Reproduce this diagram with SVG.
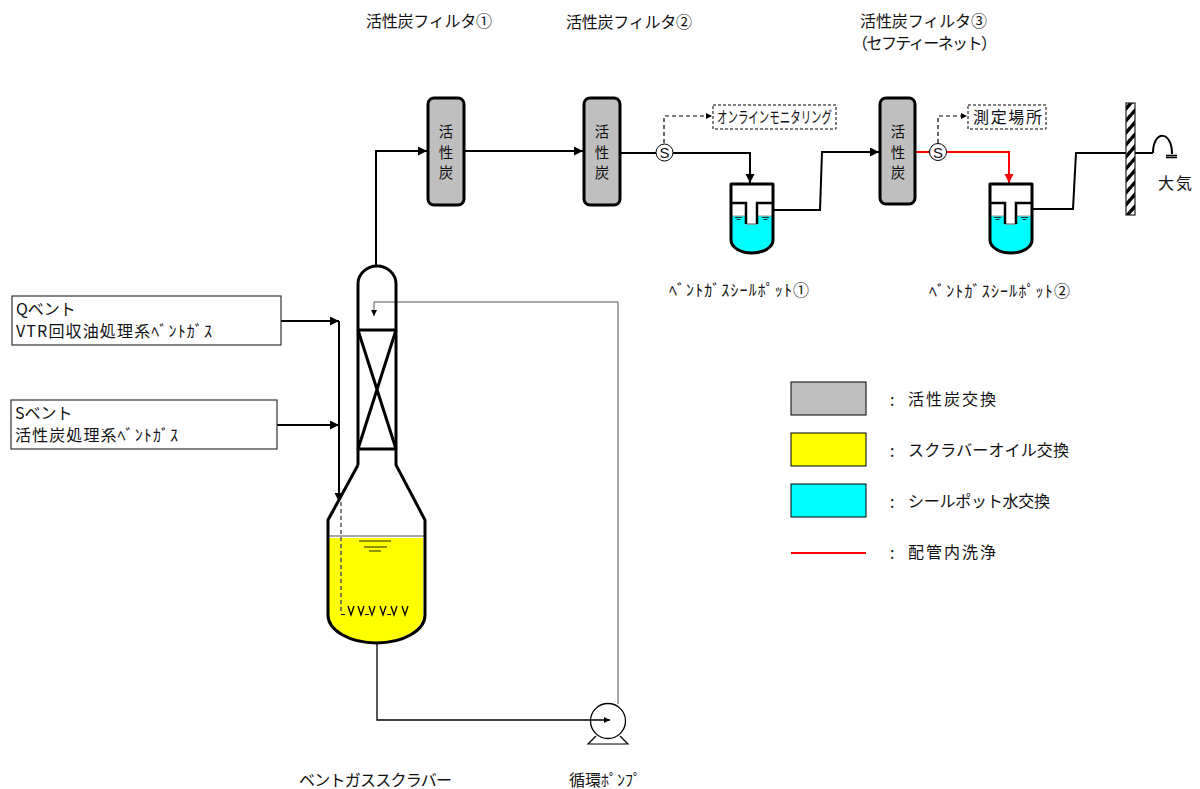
<svg xmlns="http://www.w3.org/2000/svg" width="1200" height="789" viewBox="0 0 1200 789">
<style>
text{font-family:"Noto Sans CJK JP","Liberation Sans",sans-serif;font-size:16px;fill:#111}
.p{fill:none;stroke:#000;stroke-width:2}
.t{fill:none;stroke:#000;stroke-width:3}
.thin{fill:none;stroke:#555;stroke-width:1}
.d{fill:none;stroke:#000;stroke-width:1.2;stroke-dasharray:4 3}
.f{fill:#bfbfbf;stroke:#000;stroke-width:3}
.b{fill:#fff;stroke:#333;stroke-width:1.2}
.s{fill:#fff;stroke:#000;stroke-width:1}
.k{font-size:14.5px;text-anchor:middle}
.sl{font-family:"Liberation Sans",sans-serif;font-size:15px;text-anchor:middle}
</style>
<defs>
<marker id="a" markerUnits="userSpaceOnUse" markerWidth="10" markerHeight="10" refX="9" refY="4.5" orient="auto"><path d="M0 0L9 4.5L0 9z" fill="#000"/></marker>
<marker id="r" markerUnits="userSpaceOnUse" markerWidth="10" markerHeight="10" refX="9" refY="4.5" orient="auto"><path d="M0 0L9 4.5L0 9z" fill="#f00"/></marker>
<marker id="m" markerUnits="userSpaceOnUse" markerWidth="7" markerHeight="7" refX="6" refY="3" orient="auto"><path d="M0 0L6 3L0 6z" fill="#000"/></marker>
<pattern id="h" patternUnits="userSpaceOnUse" width="9" height="12" patternTransform="translate(1126 103)"><rect width="9" height="12" fill="#fff"/><path d="M-1 7L9 -5M-1 19L11 5" stroke="#000" stroke-width="3.4" fill="none"/></pattern>
<g id="potshape">
<path d="M0 32H42V56A21 13 0 0 1 0 56z" fill="#0ff"/>
<rect x="15" y="19" width="11" height="21" fill="#fff"/>
<path d="M15 40H26" stroke="#888" stroke-width="1.5"/>
<path d="M1 32H15M26 32H41" stroke="#999" stroke-width="1.2"/>
<path d="M0 19H15V40M26 40V19H42" fill="none" stroke="#000" stroke-width="2.5"/>
<path d="M0 0H42V56A21 13 0 0 1 0 56z" fill="none" stroke="#000" stroke-width="3" stroke-linejoin="round"/>
<path d="M4 33.500H11M5.500 35.500H9.500" stroke="#000" stroke-width=".8" fill="none"/>
<path d="M31 33.500H38M32.500 35.500H36.500" stroke="#000" stroke-width=".8" fill="none"/>
</g>
<path id="v" d="M-3 0L0 9L3 0" fill="none" stroke="#000" stroke-width="1.3"/>
</defs>

<g id="connectors">
<path class="p" d="M376 266V151H427" marker-end="url(#a)"/>
<path class="p" d="M464 151H583" marker-end="url(#a)"/>
<path class="p" d="M620 153H750V183" marker-end="url(#a)"/>
<path class="p" d="M773 210H820L822 152H879" marker-end="url(#a)"/>
<path d="M916 152H1009V183" fill="none" stroke="#f00" stroke-width="2" marker-end="url(#r)"/>
<path class="p" d="M1031 209H1073L1076 153H1153"/>
<path class="d" d="M664 143V116H712" marker-end="url(#m)"/>
<path class="d" d="M938 143V116H967" marker-end="url(#m)"/>
<path class="p" d="M281 321H339" marker-end="url(#a)"/>
<path class="p" d="M277 425H339" marker-end="url(#a)"/>
<path class="p" d="M339 321V502" marker-end="url(#a)"/>
<path class="thin" d="M618 704V302H374V316" marker-end="url(#m)"/>
<path d="M377 644V720H610" fill="none" stroke="#000" stroke-width="1.300" marker-end="url(#m)"/>
</g>

<g id="scrubber">
<path d="M329 538H423V615A47 27 0 0 1 329 615z" fill="#ff0"/>
<path d="M328 536H425" stroke="#888" stroke-width="1.5"/>
<path class="t" d="M358 465V284A19 18 0 0 1 396 284V465L425 520V615A48.500 28 0 0 1 328 615V520L358 465"/>
<path class="t" d="M358 330H396M358 449H396M358 330L396 449M396 330L358 449"/>
<path d="M359 541H391M364 547H387M369 551H381" stroke="#222" stroke-width="1"/>
<path d="M341 502V612" fill="none" stroke="#555" stroke-width="1.5" stroke-dasharray="4 3"/>
<path d="M341 614.500H345M365 614.500H369M387 614.500H391" fill="none" stroke="#000" stroke-width="1.2"/>
<use href="#v" x="351" y="606"/><use href="#v" x="361" y="606"/><use href="#v" x="372" y="606"/><use href="#v" x="383" y="606"/><use href="#v" x="394" y="606"/><use href="#v" x="405" y="606"/>
</g>

<g id="filter1"><rect class="f" x="428" y="98" width="36" height="107" rx="6"/><text class="k" x="446" y="137">活</text><text class="k" x="446" y="158">性</text><text class="k" x="446" y="178">炭</text></g>
<g id="filter2"><rect class="f" x="584" y="98" width="36" height="107" rx="6"/><text class="k" x="602" y="137">活</text><text class="k" x="602" y="158">性</text><text class="k" x="602" y="178">炭</text></g>
<g id="filter3"><rect class="f" x="880" y="98" width="35" height="106" rx="6"/><text class="k" x="898" y="137">活</text><text class="k" x="898" y="158">性</text><text class="k" x="898" y="178">炭</text></g>

<g id="sensor1"><circle class="s" cx="664.500" cy="152.500" r="8.500"/><text class="sl" x="664.500" y="158">S</text></g>
<g id="sensor2"><circle class="s" cx="938" cy="152" r="8.500"/><text class="sl" x="938" y="157.500">S</text></g>

<g id="pot1"><use href="#potshape" x="731" y="184"/></g>
<g id="pot2"><use href="#potshape" x="990" y="184"/></g>

<g id="monitor"><rect x="713" y="105" width="123" height="24" fill="#fff" stroke="#000" stroke-width="1" stroke-dasharray="3 2"/><text x="717" y="123" textLength="115" lengthAdjust="spacingAndGlyphs">オンラインモニタリング</text></g>
<g id="measure"><rect x="968" y="105" width="78" height="24" fill="#fff" stroke="#000" stroke-width="1" stroke-dasharray="3 2"/><text x="973" y="123" textLength="69">測定場所</text></g>

<g id="wall"><rect x="1126" y="103" width="9" height="112" fill="url(#h)" stroke="#222" stroke-width="1.2"/></g>
<g id="outlet"><path d="M1153 153C1153 130 1172 130 1172 154" fill="none" stroke="#000" stroke-width="2"/><path d="M1166 155.500H1177M1166 157.500H1177" stroke="#000" stroke-width="1.5"/><text x="1158" y="189" textLength="34">大気</text></g>

<g id="pump"><circle cx="608" cy="721" r="17.500" fill="none" stroke="#000" stroke-width="1.3"/><path d="M596 736L588 744H628L620 736" fill="none" stroke="#000" stroke-width="1.2"/></g>

<g id="qvent"><rect class="b" x="12" y="296" width="269" height="49"/><text x="16" y="315">Qベント</text><text x="16" y="337" textLength="196">VTR回収油処理系ﾍﾞﾝﾄｶﾞｽ</text></g>
<g id="svent"><rect class="b" x="11" y="400" width="266" height="49"/><text x="15" y="419">Sベント</text><text x="15" y="441" textLength="163">活性炭処理系ﾍﾞﾝﾄｶﾞｽ</text></g>

<g id="labels">
<text x="366" y="27" textLength="126">活性炭フィルタ①</text>
<text x="566" y="28" textLength="126">活性炭フィルタ②</text>
<text x="860" y="27" textLength="127">活性炭フィルタ③</text>
<text x="852" y="49" textLength="145">（セフティーネット）</text>
<text x="669" y="296" textLength="140">ﾍﾞﾝﾄｶﾞｽｼｰﾙﾎﾟｯﾄ①</text>
<text x="929" y="297" textLength="141">ﾍﾞﾝﾄｶﾞｽｼｰﾙﾎﾟｯﾄ②</text>
<text x="299" y="786" textLength="153">ベントガススクラバー</text>
<text x="569" y="786" textLength="72">循環ﾎﾟﾝﾌﾟ</text>
</g>

<g id="legend">
<rect x="791" y="382" width="75" height="33" fill="#bfbfbf" stroke="#000"/>
<rect x="791" y="433" width="75" height="33" fill="#ff0" stroke="#000"/>
<rect x="791" y="484" width="75" height="33" fill="#0ff" stroke="#000"/>
<path d="M791 553H866" stroke="#f00" stroke-width="2"/>
<text x="890" y="406">:</text><text x="908" y="405" textLength="88">活性炭交換</text>
<text x="890" y="457">:</text><text x="908" y="456" textLength="161">スクラバーオイル交換</text>
<text x="890" y="508">:</text><text x="908" y="507" textLength="142">シールポット水交換</text>
<text x="890" y="559">:</text><text x="908" y="558" textLength="88">配管内洗浄</text>
</g>
</svg>
